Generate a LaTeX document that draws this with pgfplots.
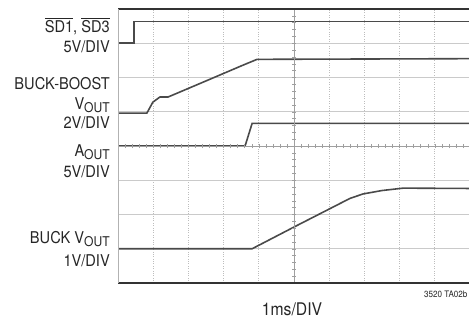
\documentclass[border=0pt]{standalone}
\usepackage{fontspec}
\setmainfont{TeX Gyre Heros}[FakeStretch=0.9]
\usepackage{pgfplots}
\pgfplotsset{compat=1.18}
\definecolor{trace}{HTML}{4A4A4A}
\definecolor{gridc}{HTML}{BDBDBD}
\definecolor{frame}{HTML}{333333}
\newcommand\sub[1]{\raisebox{-0.2em}[\height][0pt]{\fontsize{13.5}{13.5}\selectfont #1}}
\newcommand\ol[1]{$\overline{\hbox{#1}}$}
\begin{document}
\begin{tikzpicture}[x=1bp,y=1bp]
\useasboundingbox (0,0) rectangle (469,320);
\begin{axis}[at={(118bp,37bp)}, anchor=south west, scale only axis,
  width=352bp, height=274bp, xmin=0, xmax=10, ymin=0, ymax=8,
  xtick={1,...,9}, ytick={1,...,7}, xticklabels={}, yticklabels={},
  major tick length=0pt, grid=major,
  major x grid style={gridc, dotted, line width=0.8pt},
  major y grid style={gridc!80, line width=0.8pt},
  axis line style={draw=none}, clip=false]
% SD1, SD3
\addplot[trace, line width=1.6pt] coordinates {(0,7.0) (0.46,7.0) (0.46,7.64) (10,7.64)};
% Buck-boost Vout
\addplot[trace, line width=1.6pt] coordinates {(0,4.96) (0.82,4.96) (0.99,5.28) (1.19,5.43) (1.42,5.43) (1.56,5.49) (2.5,5.9) (3.55,6.36) (3.95,6.53) (10,6.55)};
% Aout
\addplot[trace, line width=1.6pt] coordinates {(0,4.0) (3.61,4.0) (3.81,4.66) (10,4.66)};
% Buck Vout
\addplot[trace, line width=1.6pt] coordinates {(0,1.0) (3.81,1.0) (5.03,1.65) (6.59,2.47) (6.96,2.6) (7.5,2.7) (8.1,2.77) (10,2.76)};
\end{axis}
% center lines with ticks
\draw[gray!75, line width=0.6pt] (294,37) -- (294,311);
\draw[gray!75, line width=0.6pt] (118,174) -- (470,174);
\foreach \i in {1,...,49} \draw[gray!75, line width=0.5pt] (118+\i*7.04,172) -- ++(0,4);
\foreach \i in {1,...,39} \draw[gray!75, line width=0.5pt] (292,37+\i*6.85) -- ++(4,0);
% frame
\draw[frame, line width=1.3pt] (118,311) -- (470,311);
\draw[frame, line width=1.3pt] (118,37) -- (470,37);
\draw[gray!60, line width=0.8pt] (118,37) -- (118,311);
% labels
\begin{scope}[every node/.style={anchor=base east, inner sep=0pt, font=\fontsize{16.3}{16}\selectfont, text=black!85}]
\node at (110,288) {\ol{SD1}, \ol{SD3}};
\node at (110,268) {5V/DIV};
\node at (110,231) {BUCK-BOOST};
\node at (110,210.5) {V\sub{OUT}};
\node at (110,192) {2V/DIV};
\node at (110,163.5) {A\sub{OUT}};
\node at (110,143) {5V/DIV};
\node at (110,77) {BUCK V\sub{OUT}};
\node at (110,54) {1V/DIV};
\end{scope}
\node[anchor=base, inner sep=0pt, font=\fontsize{17.5}{17.5}\selectfont, text=black!85] at (292,5) {1ms/DIV};
\node[anchor=base west, inner sep=0pt, font=\fontsize{9}{9}\selectfont, text=black!85] at (424,23) {3520 TA02b};
\end{tikzpicture}
\end{document}
